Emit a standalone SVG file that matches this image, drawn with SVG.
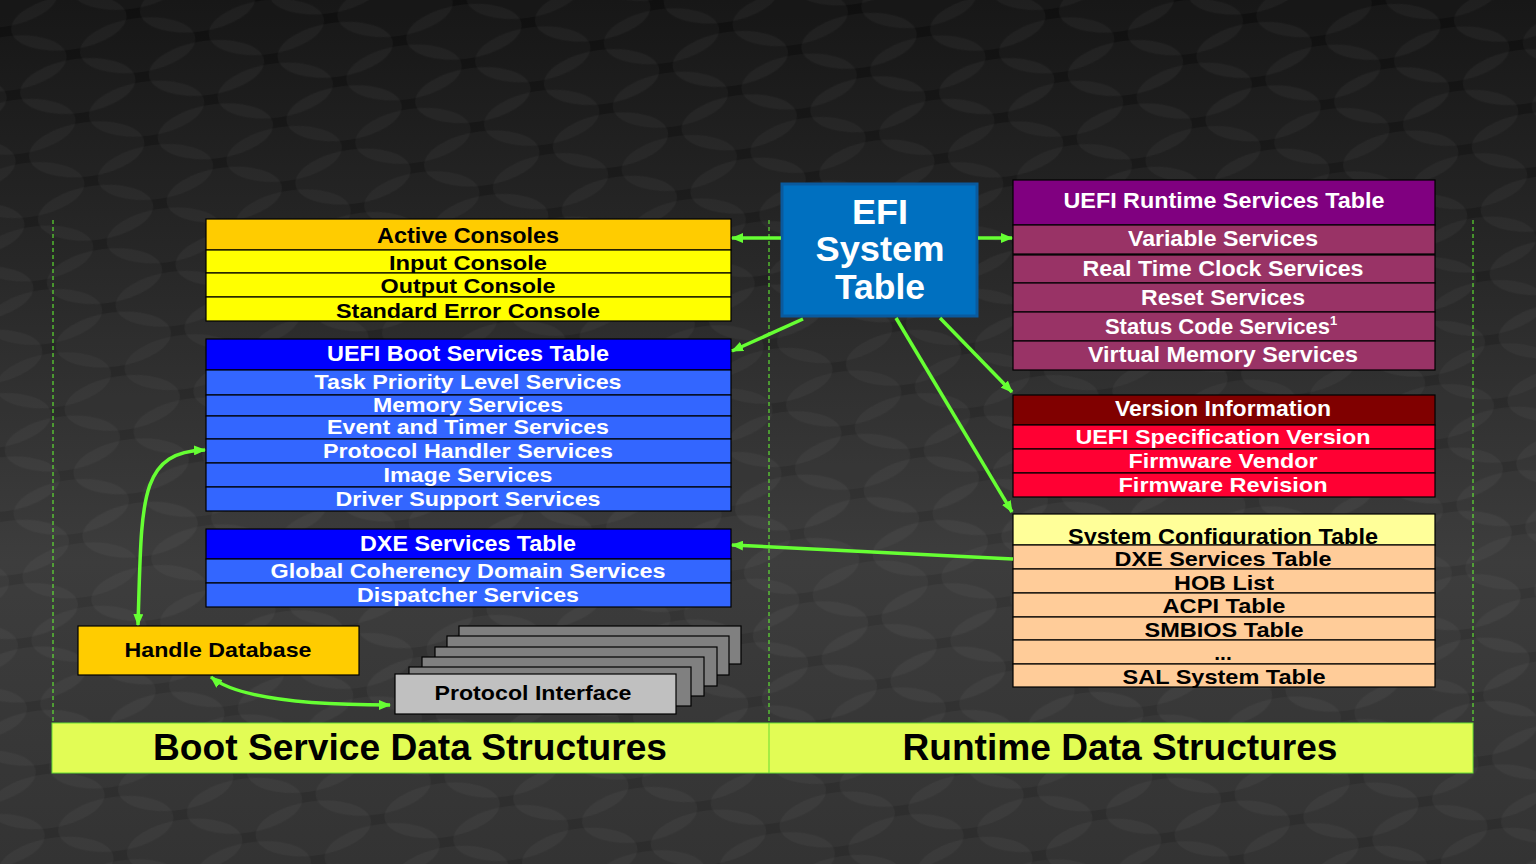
<svg xmlns="http://www.w3.org/2000/svg" width="1536" height="864" viewBox="0 0 1536 864">
<defs>
  <linearGradient id="bg" x1="0" y1="0" x2="0" y2="1">
    <stop offset="0" stop-color="#0f0f0f"/>
    <stop offset="0.3" stop-color="#202020"/>
    <stop offset="0.65" stop-color="#363636"/>
    <stop offset="1" stop-color="#2c2c2c"/>
  </linearGradient>
  <pattern id="disks" width="130" height="64" patternUnits="userSpaceOnUse" patternTransform="rotate(-8)">
    <ellipse cx="65" cy="32" rx="58" ry="27" fill="#ffffff" fill-opacity="0.035"/>
    <ellipse cx="0" cy="0" rx="58" ry="27" fill="#ffffff" fill-opacity="0.03"/>
    <ellipse cx="130" cy="0" rx="58" ry="27" fill="#ffffff" fill-opacity="0.03"/>
    <ellipse cx="0" cy="64" rx="58" ry="27" fill="#ffffff" fill-opacity="0.03"/>
    <ellipse cx="130" cy="64" rx="58" ry="27" fill="#ffffff" fill-opacity="0.03"/>
  </pattern>
  <marker id="ah" viewBox="0 0 12 10" refX="11" refY="5" markerWidth="12" markerHeight="10" markerUnits="userSpaceOnUse" orient="auto-start-reverse">
    <path d="M0,0 L12,5 L0,10 Z" fill="#66FF33"/>
  </marker>
  <style>
    .t{font-family:"Liberation Sans",Arial,sans-serif;font-weight:bold;text-anchor:middle}
    .s22{font-size:22px}
    .s21{font-size:21px}
    .s20{font-size:20px}
    .s36{font-size:36px}
    .s35{font-size:35px}
    .k{fill:#000000}
    .w{fill:#ffffff}
    .row{stroke:#000000;stroke-width:1.2}
    .dash{stroke:#66FF33;stroke-width:1;stroke-dasharray:4 3;fill:none}
    .conn{stroke:#66FF33;stroke-width:3.5;fill:none}
  </style>
</defs>

<rect x="0" y="0" width="1536" height="864" fill="url(#bg)"/>
<rect x="0" y="0" width="1536" height="864" fill="url(#disks)"/>

<g id="guides">
  <line class="dash" x1="53" y1="220" x2="53" y2="723"/>
  <line class="dash" x1="769" y1="220" x2="769" y2="723"/>
  <line class="dash" x1="1473" y1="220" x2="1473" y2="723"/>
</g>

<g id="active-consoles">
  <rect class="row" x="206" y="219" width="525" height="31" fill="#FFCC00"/>
  <text class="t s22 k" x="468" y="243" textLength="182" lengthAdjust="spacingAndGlyphs">Active Consoles</text>
  <rect class="row" x="206" y="250" width="525" height="23" fill="#FFFF00"/>
  <text class="t s21 k" x="468" y="270" textLength="158" lengthAdjust="spacingAndGlyphs">Input Console</text>
  <rect class="row" x="206" y="273" width="525" height="24" fill="#FFFF00"/>
  <text class="t s21 k" x="468" y="293" textLength="175" lengthAdjust="spacingAndGlyphs">Output Console</text>
  <rect class="row" x="206" y="297" width="525" height="24" fill="#FFFF00"/>
  <text class="t s21 k" x="468" y="318" textLength="264" lengthAdjust="spacingAndGlyphs">Standard Error Console</text>
</g>

<g id="boot-services">
  <rect class="row" x="206" y="339" width="525" height="31" fill="#0000FF"/>
  <text class="t s22 w" x="468" y="361" textLength="282" lengthAdjust="spacingAndGlyphs">UEFI Boot Services Table</text>
  <rect class="row" x="206" y="370" width="525" height="25" fill="#3366FF"/>
  <text class="t s21 w" x="468" y="389" textLength="307" lengthAdjust="spacingAndGlyphs">Task Priority Level Services</text>
  <rect class="row" x="206" y="395" width="525" height="21" fill="#3366FF"/>
  <text class="t s20 w" x="468" y="412" textLength="190" lengthAdjust="spacingAndGlyphs">Memory Services</text>
  <rect class="row" x="206" y="416" width="525" height="23" fill="#3366FF"/>
  <text class="t s20 w" x="468" y="434" textLength="282" lengthAdjust="spacingAndGlyphs">Event and Timer Services</text>
  <rect class="row" x="206" y="439" width="525" height="24" fill="#3366FF"/>
  <text class="t s21 w" x="468" y="458" textLength="290" lengthAdjust="spacingAndGlyphs">Protocol Handler Services</text>
  <rect class="row" x="206" y="463" width="525" height="24" fill="#3366FF"/>
  <text class="t s21 w" x="468" y="482" textLength="169" lengthAdjust="spacingAndGlyphs">Image Services</text>
  <rect class="row" x="206" y="487" width="525" height="24" fill="#3366FF"/>
  <text class="t s21 w" x="468" y="506" textLength="265" lengthAdjust="spacingAndGlyphs">Driver Support Services</text>
</g>

<g id="dxe-services">
  <rect class="row" x="206" y="529" width="525" height="30" fill="#0000FF"/>
  <text class="t s22 w" x="468" y="551" textLength="216" lengthAdjust="spacingAndGlyphs">DXE Services Table</text>
  <rect class="row" x="206" y="559" width="525" height="24" fill="#3366FF"/>
  <text class="t s21 w" x="468" y="578" textLength="395" lengthAdjust="spacingAndGlyphs">Global Coherency Domain Services</text>
  <rect class="row" x="206" y="583" width="525" height="24" fill="#3366FF"/>
  <text class="t s21 w" x="468" y="602" textLength="222" lengthAdjust="spacingAndGlyphs">Dispatcher Services</text>
</g>

<g id="handle-database">
  <rect class="row" x="78" y="626" width="281" height="49" fill="#FFCC00"/>
  <text class="t s21 k" x="218" y="657" textLength="187" lengthAdjust="spacingAndGlyphs">Handle Database</text>
</g>

<g id="protocol-interface">
  <rect class="row" x="459" y="626" width="282" height="38" fill="#808080"/>
  <rect class="row" x="447" y="636" width="282" height="39" fill="#808080"/>
  <rect class="row" x="435" y="647" width="282" height="39" fill="#808080"/>
  <rect class="row" x="422" y="657" width="282" height="39" fill="#808080"/>
  <rect class="row" x="409" y="667" width="282" height="39" fill="#808080"/>
  <rect class="row" x="395" y="674" width="281" height="40" fill="#C0C0C0"/>
  <text class="t s21 k" x="533" y="700" textLength="197" lengthAdjust="spacingAndGlyphs">Protocol Interface</text>
</g>

<g id="efi-system-table">
  <rect x="782" y="184" width="195" height="132" fill="#0070C0" stroke="#0A5A9E" stroke-width="3"/>
  <text class="t s35 w" x="880" y="224" textLength="56" lengthAdjust="spacingAndGlyphs">EFI</text>
  <text class="t s35 w" x="880" y="261" textLength="129" lengthAdjust="spacingAndGlyphs">System</text>
  <text class="t s35 w" x="880" y="299" textLength="90" lengthAdjust="spacingAndGlyphs">Table</text>
</g>

<g id="runtime-services">
  <rect class="row" x="1013" y="180" width="422" height="45" fill="#800080"/>
  <text class="t s22 w" x="1224" y="208" textLength="321" lengthAdjust="spacingAndGlyphs">UEFI Runtime Services Table</text>
  <rect class="row" x="1013" y="225" width="422" height="29" fill="#993366"/>
  <text class="t s22 w" x="1223" y="246" textLength="190" lengthAdjust="spacingAndGlyphs">Variable Services</text>
  <rect class="row" x="1013" y="255" width="422" height="28" fill="#993366"/>
  <text class="t s22 w" x="1223" y="276" textLength="281" lengthAdjust="spacingAndGlyphs">Real Time Clock Services</text>
  <rect class="row" x="1013" y="283" width="422" height="29" fill="#993366"/>
  <text class="t s22 w" x="1223" y="305" textLength="164" lengthAdjust="spacingAndGlyphs">Reset Services</text>
  <rect class="row" x="1013" y="312" width="422" height="29" fill="#993366"/>
  <text class="t s22 w" x="1221" y="334">Status Code Services<tspan font-size="13" dy="-9">1</tspan></text>
  <rect class="row" x="1013" y="341" width="422" height="29" fill="#993366"/>
  <text class="t s22 w" x="1223" y="362" textLength="270" lengthAdjust="spacingAndGlyphs">Virtual Memory Services</text>
</g>

<g id="version-information">
  <rect class="row" x="1013" y="395" width="422" height="30" fill="#800000"/>
  <text class="t s22 w" x="1223" y="416" textLength="216" lengthAdjust="spacingAndGlyphs">Version Information</text>
  <rect class="row" x="1013" y="425" width="422" height="24" fill="#FF0033"/>
  <text class="t s21 w" x="1223" y="444" textLength="295" lengthAdjust="spacingAndGlyphs">UEFI Specification Version</text>
  <rect class="row" x="1013" y="449" width="422" height="24" fill="#FF0033"/>
  <text class="t s21 w" x="1223" y="468" textLength="189" lengthAdjust="spacingAndGlyphs">Firmware Vendor</text>
  <rect class="row" x="1013" y="473" width="422" height="24" fill="#FF0033"/>
  <text class="t s21 w" x="1223" y="492" textLength="209" lengthAdjust="spacingAndGlyphs">Firmware Revision</text>
</g>

<g id="system-configuration-table">
  <rect class="row" x="1013" y="514" width="422" height="31" fill="#FFFF99"/>
  <text class="t s22 k" x="1223" y="544" textLength="310" lengthAdjust="spacingAndGlyphs">System Configuration Table</text>
  <rect class="row" x="1013" y="545" width="422" height="24" fill="#FFCC99"/>
  <text class="t s21 k" x="1223" y="566" textLength="217" lengthAdjust="spacingAndGlyphs">DXE Services Table</text>
  <rect class="row" x="1013" y="569" width="422" height="24" fill="#FFCC99"/>
  <text class="t s21 k" x="1224" y="590" textLength="100" lengthAdjust="spacingAndGlyphs">HOB List</text>
  <rect class="row" x="1013" y="593" width="422" height="24" fill="#FFCC99"/>
  <text class="t s21 k" x="1224" y="613" textLength="123" lengthAdjust="spacingAndGlyphs">ACPI Table</text>
  <rect class="row" x="1013" y="617" width="422" height="23" fill="#FFCC99"/>
  <text class="t s21 k" x="1224" y="637" textLength="159" lengthAdjust="spacingAndGlyphs">SMBIOS Table</text>
  <rect class="row" x="1013" y="640" width="422" height="24" fill="#FFCC99"/>
  <text class="t s21 k" x="1223" y="660">...</text>
  <rect class="row" x="1013" y="664" width="422" height="23" fill="#FFCC99"/>
  <text class="t s21 k" x="1224" y="684" textLength="203" lengthAdjust="spacingAndGlyphs">SAL System Table</text>
</g>

<g id="bottom-band">
  <rect x="52" y="723" width="1421" height="50" fill="#E2FC55" stroke="#66DD33" stroke-width="1"/>
  <line x1="769" y1="723" x2="769" y2="773" stroke="#66DD33" stroke-width="1"/>
  <text class="t s36 k" x="410" y="760" textLength="514" lengthAdjust="spacingAndGlyphs">Boot Service Data Structures</text>
  <text class="t s36 k" x="1120" y="760" textLength="435" lengthAdjust="spacingAndGlyphs">Runtime Data Structures</text>
</g>

<g id="connectors">
  <line class="conn" x1="781" y1="238" x2="732" y2="238" marker-end="url(#ah)"/>
  <line class="conn" x1="978" y1="238" x2="1012" y2="238" marker-end="url(#ah)"/>
  <line class="conn" x1="803" y1="319" x2="732" y2="351" marker-end="url(#ah)"/>
  <line class="conn" x1="940" y1="318" x2="1012" y2="392" marker-end="url(#ah)"/>
  <line class="conn" x1="896" y1="318" x2="1012" y2="512" marker-end="url(#ah)"/>
  <line class="conn" x1="1013" y1="559" x2="732" y2="545" marker-end="url(#ah)"/>
  <path class="conn" d="M138,625 C142,500 138,452 205,450" marker-start="url(#ah)" marker-end="url(#ah)"/>
  <path class="conn" d="M211,677 Q245,705 390,705" marker-start="url(#ah)" marker-end="url(#ah)"/>
</g>
</svg>
